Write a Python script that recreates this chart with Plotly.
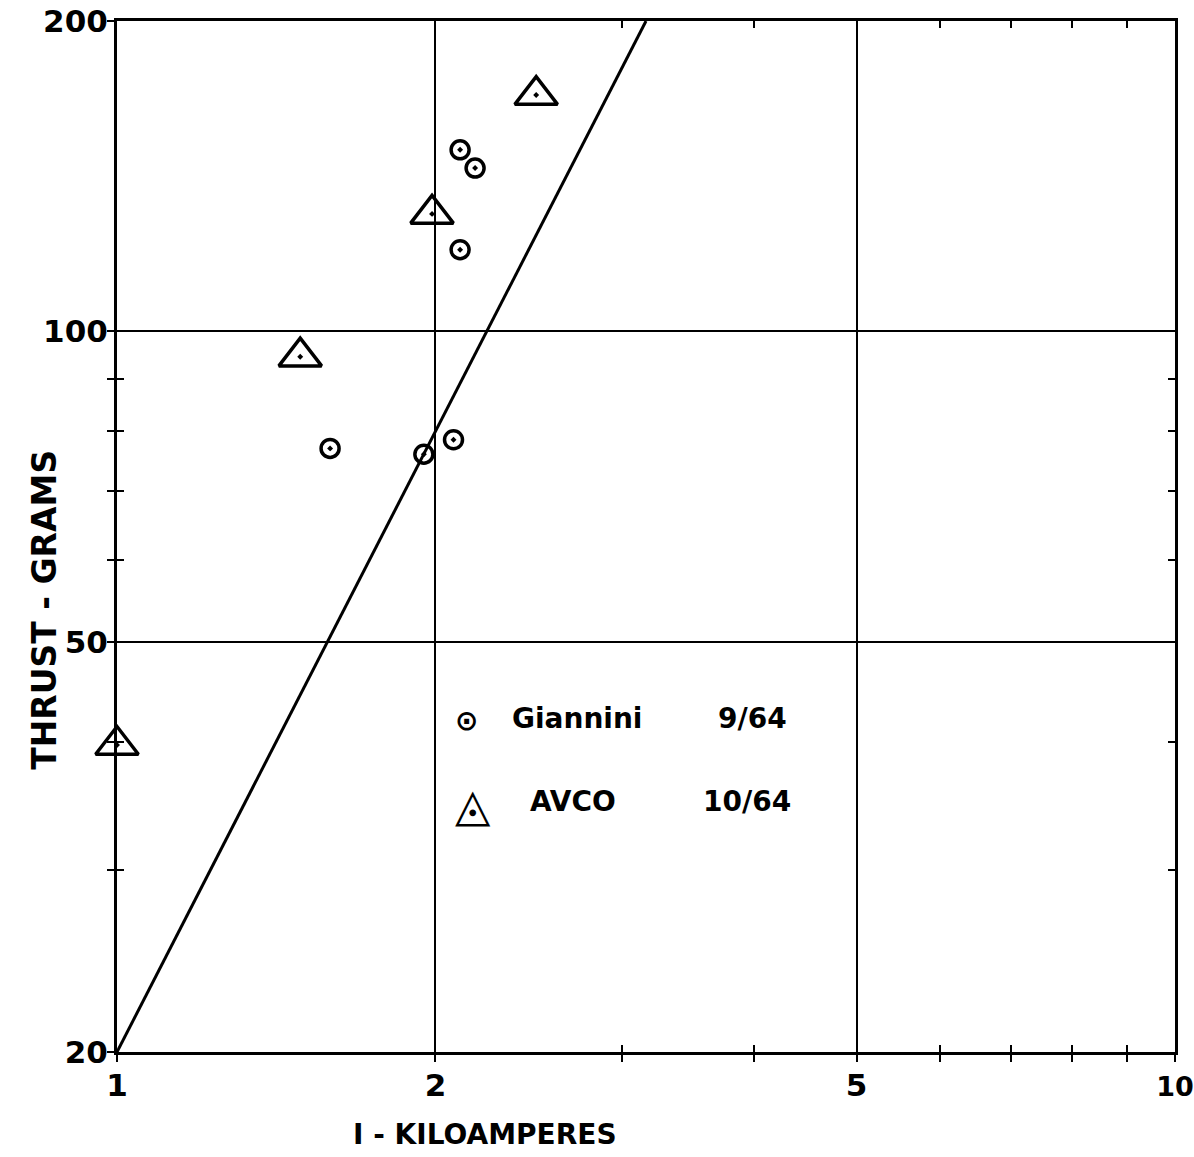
import plotly.graph_objects as go

# Giannini 9/64 data (current in kA, thrust in grams)
giannini_I = [1.59, 1.95, 2.08, 2.11, 2.18, 2.11]
giannini_T = [77.0, 76.0, 78.5, 150.0, 144.0, 120.0]

# AVCO 10/64 data
avco_I = [1.0, 1.49, 1.985, 2.49]
avco_T = [39.7, 94.5, 130.0, 169.5]

# reference line T = 20 I^2, end points
line_I = [1.0, 3.1623]
line_T = [20.0, 200.0]

x_major = [1, 2, 5, 10]
x_labels = ["1", "2", "5", "<span style='font-size:27px'>10</span>"]
x_minor = [3, 4, 6, 7, 8, 9]
y_major = [20, 50, 100, 200]
y_labels = ["20", "50", "100", "200"]
y_minor = [30, 40, 60, 70, 80, 90]

FONT = "DejaVu Sans"
BLACK = "black"

fig = go.Figure()
fig.add_trace(go.Scatter(x=line_I, y=line_T, mode="lines",
                         line=dict(color=BLACK, width=3), showlegend=False,
                         cliponaxis=True))
fig.add_trace(go.Scatter(x=giannini_I, y=giannini_T, mode="markers",
                         marker=dict(symbol="circle-open-dot", size=18,
                                     color=BLACK, line=dict(width=3.5)),
                         showlegend=False, cliponaxis=False))
fig.add_trace(go.Scatter(x=avco_I, y=avco_T, mode="markers",
                         marker=dict(symbol="triangle-up-open-dot", size=37,
                                     color=BLACK, line=dict(width=3.5)),
                         showlegend=False, cliponaxis=False))

tickfont = dict(family=FONT, size=31, color=BLACK, weight="bold")
common = dict(type="log", showline=True, linecolor=BLACK, linewidth=3,
              mirror=True, showgrid=True, gridcolor=BLACK, gridwidth=2,
              zeroline=False, ticks="outside", ticklen=7, tickwidth=2,
              tickcolor=BLACK, tickfont=tickfont, automargin=False,
              ticklabeloverflow="allow")

fig.update_layout(
    width=1194, height=1157,
    margin=dict(l=117, r=19, t=21, b=105),
    paper_bgcolor="white", plot_bgcolor="white",
    xaxis=dict(range=[0, 1], tickvals=x_major, ticktext=x_labels,
               minor=dict(tickvals=x_minor, ticks="outside", ticklen=7,
                          tickwidth=2, tickcolor=BLACK, showgrid=False),
               ticklabelstandoff=-3, **common),
    yaxis=dict(range=[1.30103, 2.30103], tickvals=y_major,
               ticktext=y_labels,
               minor=dict(tickvals=y_minor, ticks="outside", ticklen=7,
                          tickwidth=2, tickcolor=BLACK, showgrid=False),
               ticklabelstandoff=-7, **common),
    # overlay axes giving the inward half of the crossing ticks
    xaxis2=dict(type="log", range=[0, 1], overlaying="x", anchor="y",
                side="bottom", tickvals=x_major + x_minor, ticks="inside",
                ticklen=7, tickwidth=2, tickcolor=BLACK, mirror="ticks",
                showticklabels=False, showgrid=False, showline=False,
                zeroline=False, automargin=False),
    yaxis2=dict(type="log", range=[1.30103, 2.30103], overlaying="y",
                anchor="x", side="left", tickvals=y_major + y_minor,
                ticks="inside", ticklen=7, tickwidth=2, tickcolor=BLACK,
                mirror="ticks", showticklabels=False, showgrid=False,
                showline=False, zeroline=False, automargin=False),
    showlegend=False,
)

# invisible trace so the overlay axes get drawn
fig.add_trace(go.Scatter(x=[1], y=[20], xaxis="x2", yaxis="y2",
                         mode="markers", marker=dict(opacity=0),
                         showlegend=False, hoverinfo="skip"))

fig.add_annotation(text="THRUST - GRAMS", textangle=-90, xref="paper",
                   yref="paper", x=-0.068, y=0.429, xanchor="center",
                   yanchor="middle", showarrow=False,
                   font=dict(family=FONT, size=33, color=BLACK,
                             weight="bold"))
fig.add_annotation(text="I - KILOAMPERES", xref="paper", yref="paper",
                   x=0.348, y=-0.0805, xanchor="center", yanchor="middle",
                   showarrow=False,
                   font=dict(family=FONT, size=28, color=BLACK,
                             weight="bold"))

# in-plot key
key_font = dict(family=FONT, size=28, color=BLACK, weight="bold")
key_rows = [
    ("⊙", 28, 0.3308, 0.322, "Giannini", 0.3715, "9/64", 0.566, 0.323),
    ("◬", 46, 0.3365, 0.240, "AVCO", 0.3885, "10/64", 0.552, 0.2425),
]
for sym, sym_size, sx, sy, name, nx, date, dx, ty in key_rows:
    fig.add_annotation(text=sym, xref="paper", yref="paper", x=sx, y=sy,
                       xanchor="center", yanchor="middle", showarrow=False,
                       font=dict(family=FONT, size=sym_size, color=BLACK,
                                 weight="bold"))
    fig.add_annotation(text=name, xref="paper", yref="paper", x=nx, y=ty,
                       xanchor="left", yanchor="middle", showarrow=False,
                       font=key_font)
    fig.add_annotation(text=date, xref="paper", yref="paper", x=dx, y=ty,
                       xanchor="left", yanchor="middle", showarrow=False,
                       font=key_font)

fig.write_html("out.html", config={"displayModeBar": False},
               post_script="document.body.style.margin='0';")
